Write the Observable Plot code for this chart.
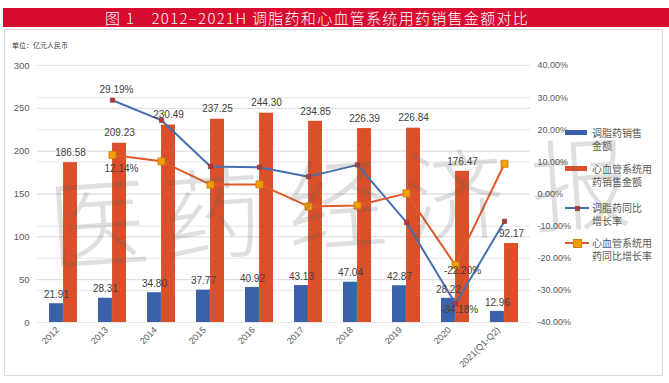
<!DOCTYPE html>
<html><head><meta charset="utf-8">
<script src="https://cdn.jsdelivr.net/npm/d3@7"></script>
<script src="https://cdn.jsdelivr.net/npm/@observablehq/plot@0.6"></script>
<style>
body{margin:0;background:#fff;}
#wrap{position:relative;width:669px;height:383px;overflow:hidden;background:#fff;font-family:"Noto Sans CJK SC","Noto Sans",sans-serif;}
#title{position:absolute;left:3px;top:8px;width:666px;height:19px;background:#d80c30;color:#fff;font-size:15px;font-weight:300;line-height:19px;letter-spacing:1.3px;white-space:nowrap;}
#title span{position:absolute;left:102px;top:0;}
#frame{position:absolute;left:4px;top:29px;width:657px;height:345px;border:1px solid #d9d9d9;}
#unit{position:absolute;left:12px;top:40px;font-size:7px;color:#404040;}
#chart{position:absolute;left:0;top:0;}
#legend{position:absolute;left:565px;top:126px;font-size:10px;line-height:13px;color:#595959;}
.li{position:absolute;left:0;width:100px;}
.li .sw{position:absolute;left:0;}
.li .tx{position:absolute;left:27px;top:0;white-space:nowrap;}
#wm{position:absolute;left:0;top:0;width:669px;height:383px;pointer-events:none;font-family:"Noto Sans CJK SC";font-weight:300;font-size:100px;line-height:100px;color:rgba(95,95,95,0.2);}
#wm span{position:absolute;width:100px;text-align:center;transform:rotate(-4deg);}
</style></head><body>
<div id="wrap">
  <div id="title"><span>图 1　2012–2021H 调脂药和心血管系统用药销售金额对比</span></div>
  <div id="frame"></div>
  <div id="unit">单位：亿元人民币</div>
  <div id="chart"></div>
  <div id="legend"></div>
  <div id="wm"></div>
</div>
<script>
const years = ["2012","2013","2014","2015","2016","2017","2018","2019","2020","2021(Q1-Q2)"];
const lipidSales = [21.91,28.31,34.80,37.77,40.92,43.13,47.04,42.87,28.22,12.96];
const cardioSales = [186.58,209.23,230.49,237.25,244.30,234.85,226.39,226.84,176.47,92.17];
const lipidGrowth = [null,29.19,22.93,8.53,8.34,5.40,9.07,-8.86,-34.18,-8.5];
const cardioGrowth = [null,12.14,10.16,2.93,2.97,-3.87,-3.60,0.20,-22.20,9.4];
const leftTicks = [0,50,100,150,200,250,300];
const rightTicks = [-40,-30,-20,-10,0,10,20,30,40];
// growth labels shown in the reference
const growthLabels = [
  {s:"lipid", year:"2013", text:"29.19%"},
  {s:"cardio", year:"2013", text:"12.14%"},
  {s:"cardio", year:"2020", text:"-22.20%"},
  {s:"lipid", year:"2020", text:"-34.18%"}
];

const BLUE = "#3b62a8", ORANGE = "#d9502a", LBLUE = "#4470b0", LORANGE = "#e05a2a";
const toLeft = p => (p + 40) * 300 / 80;
const fromLeft = v => v * 80 / 300 - 40;

const bars1 = years.map((y,i)=>({year:y, v:lipidSales[i]}));
const bars2 = years.map((y,i)=>({year:y, v:cardioSales[i]}));
const g1 = years.map((y,i)=>({year:y, p:lipidGrowth[i]})).filter(d=>d.p!=null);
const g2 = years.map((y,i)=>({year:y, p:cardioGrowth[i]})).filter(d=>d.p!=null);
const gl = growthLabels.map(d=>{
  const arr = d.s==="lipid" ? lipidGrowth : cardioGrowth;
  return {...d, p: arr[years.indexOf(d.year)]};
});

const W = 669, H = 383, mL = 37, mR = 139, mT = 65, mB = 61;
const step = (W - mL - mR) / years.length;
const pad = 0.43;
const half = step * (1 - pad) / 2;

const chart = Plot.plot({
  width: W, height: H,
  marginLeft: mL, marginRight: mR, marginTop: mT, marginBottom: mB,
  style: {fontFamily: "Liberation Sans, Arial, sans-serif", fontSize: "9px", color: "#595959", background: "transparent", overflow: "visible"},
  x: {domain: years, paddingInner: pad, paddingOuter: pad/2, label: null},
  y: {domain: [0, 300], label: null},
  marks: [
    Plot.gridY(leftTicks, {stroke: "#d9d9d9", strokeOpacity: 1}),
    Plot.gridY(rightTicks.map(toLeft), {stroke: "#e6e6e6", strokeOpacity: 1}),
    Plot.axisY(leftTicks, {anchor: "left", tickSize: 0, tickPadding: 8, fontSize: 9.5, fill: "#595959", label: null}),
    Plot.axisY(rightTicks.map(toLeft), {anchor: "right", tickSize: 0, tickPadding: 7, fontSize: 9, fill: "#595959", label: null,
      tickFormat: v => fromLeft(v).toFixed(2).replace("-0.00","0.00") + "%"}),
    Plot.axisX({tickSize: 0, tickRotate: -45, tickPadding: 6, fontSize: 9, fill: "#595959", label: null, dx: -6}),
    Plot.barY(bars1, {x: "year", y: "v", fill: BLUE, insetRight: half}),
    Plot.barY(bars2, {x: "year", y: "v", fill: ORANGE, insetLeft: half}),
    Plot.line(g1, {x: "year", y: d => toLeft(d.p), stroke: LBLUE, strokeWidth: 2}),
    Plot.dot(g1, {x: "year", y: d => toLeft(d.p), symbol: "square", r: 2.5, fill: "#b5393a", stroke: "#8a2c2c", strokeWidth: 0.5}),
    Plot.line(g2, {x: "year", y: d => toLeft(d.p), stroke: LORANGE, strokeWidth: 2}),
    Plot.dot(g2, {x: "year", y: d => toLeft(d.p), symbol: "square", r: 4, fill: "#f2a007", stroke: "#d07a10", strokeWidth: 0.8}),
    Plot.text(bars1, {x: "year", y: "v", text: d => d.v.toFixed(2), dx: -half/2, dy: -9, fontSize: 10, fill: "#404040"}),
    Plot.text(bars2, {x: "year", y: "v", text: d => d.v.toFixed(2), dx: half/2, dy: -10, fontSize: 10, fill: "#404040"}),
    Plot.text(gl.filter(d=>d.year==="2013" && d.s==="lipid"), {x:"year", y: d=>toLeft(d.p), text:"text", dx: 4, dy: -10, fontSize: 10, fill: "#404040"}),
    Plot.text(gl.filter(d=>d.year==="2013" && d.s==="cardio"), {x:"year", y: d=>toLeft(d.p), text:"text", dx: 9, dy: 14, fontSize: 10, fill: "#404040"}),
    Plot.text(gl.filter(d=>d.year==="2020" && d.s==="cardio"), {x:"year", y: d=>toLeft(d.p), text:"text", dx: 7, dy: 5, fontSize: 10, fill: "#404040"}),
    Plot.text(gl.filter(d=>d.year==="2020" && d.s==="lipid"), {x:"year", y: d=>toLeft(d.p), text:"text", dx: 4, dy: 6, fontSize: 10, fill: "#404040"})
  ]
});
document.getElementById("chart").appendChild(chart);

// legend
const legendLines = [["调脂药销售","金额"],["心血管系统用","药销售金额"],["调脂药同比","增长率"],["心血管系统用","药同比增长率"]];
const legendTops = [0, 36, 75, 110];
const leg = document.getElementById("legend");
legendLines.forEach((lines,i)=>{
  const it = document.createElement("div");
  it.className = "li"; it.style.top = legendTops[i] + "px";
  let sw;
  if (i===0) sw = `<div class="sw" style="top:4px;width:22px;height:5px;background:${BLUE}"></div>`;
  else if (i===1) sw = `<div class="sw" style="top:4px;width:22px;height:5px;background:${ORANGE}"></div>`;
  else if (i===2) sw = `<div class="sw" style="top:6px;width:24px;height:2px;background:${LBLUE}"></div><div class="sw" style="left:10px;top:4.5px;width:5px;height:5px;background:#b5393a"></div>`;
  else sw = `<div class="sw" style="top:6px;width:24px;height:2px;background:${LORANGE}"></div><div class="sw" style="left:8px;top:3px;width:7px;height:7px;background:#f2a007;border:0.5px solid #d07a10"></div>`;
  it.innerHTML = sw + `<div class="tx">${lines.join("<br>")}</div>`;
  leg.appendChild(it);
});

// watermark (slightly tilted, rising to the right)
const wmChars = ["医","药","经","济","报"];
const wmCx = [98, 212, 336, 454, 580];
const wmCy = [218, 209, 199, 190, 179];
const wm = document.getElementById("wm");
wmChars.forEach((c,i)=>{
  const s = document.createElement("span");
  s.textContent = c;
  s.style.left = (wmCx[i] - 50) + "px";
  s.style.top = (wmCy[i] - 50) + "px";
  wm.appendChild(s);
});
</script>
</body></html>
